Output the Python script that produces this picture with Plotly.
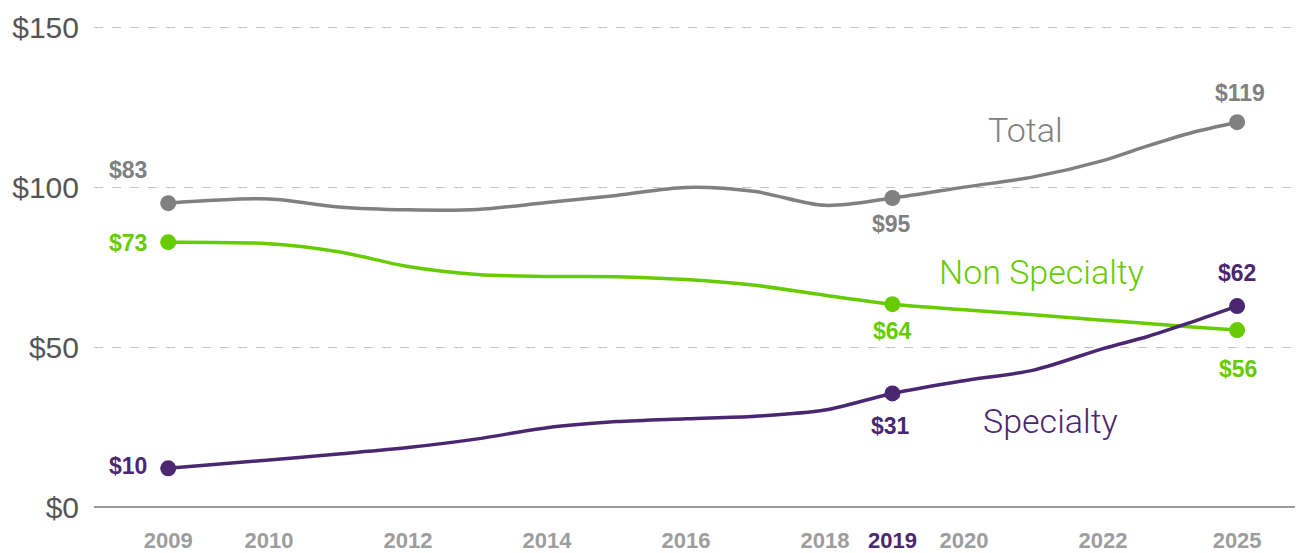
import numpy as np
import plotly.graph_objects as go

# ---- data ----
years = [2009, 2010, 2011, 2012, 2013, 2014, 2015, 2016, 2017,
         2018, 2019, 2020, 2021, 2022, 2023, 2024, 2025]
total = [95.0, 96.3, 93.8, 92.9, 93.0, 95.2, 97.4, 99.9, 98.6,
         94.3, 96.6, 100.0, 103.2, 108.3, 112.9, 117.1, 120.3]
non_specialty = [82.8, 82.3, 79.8, 75.2, 72.7, 72.1, 72.0, 71.1, 69.3,
                 66.2, 63.4, 61.7, 60.1, 58.4, 57.4, 56.3, 55.3]
specialty = [12.1, 14.7, 16.6, 18.6, 21.3, 24.8, 26.7, 27.6, 28.4,
             30.3, 35.5, 39.5, 42.8, 49.5, 53.3, 57.9, 62.8]

marker_years = [2009, 2019, 2025]
total_labels = ["$83", "$95", "$119"]
non_specialty_labels = ["$73", "$64", "$56"]
specialty_labels = ["$10", "$31", "$62"]

tick_years = [2009, 2010, 2012, 2014, 2016, 2018, 2019, 2020, 2022, 2025]
tick_text = ["2009", "2010", "2012", "2014", "2016", "2018",
             '<span style="color:#4b2771">2019</span>', "2020", "2022", "2025"]
y_ticks = [0, 50, 100, 150]
y_tick_text = ["$0", "$50", "$100", "$150"]

# ---- styles ----
GRAY = "#808080"
GREEN = "#66cc00"
PURPLE = "#4b2771"
FONT = "Liberation Sans"
LIGHT_FONT = "Roboto"

# the designed (non-uniform) horizontal scale of the original graphic
_anchor_years = [2009, 2010, 2018, 2019, 2020, 2022, 2025]
_anchor_pos = [2008.55, 2010, 2018, 2018.97, 2020, 2022, 2023.93]


def xpos(y):
    return np.interp(np.asarray(y, dtype=float), _anchor_years, _anchor_pos)


fig = go.Figure()

series = [
    ("Total", total, GRAY, total_labels),
    ("Non Specialty", non_specialty, GREEN, non_specialty_labels),
    ("Specialty", specialty, PURPLE, specialty_labels),
]

for name, vals, col, _ in series:
    fig.add_trace(go.Scatter(
        x=xpos(years), y=vals, mode="lines", name=name,
        line=dict(color=col, width=3.5, shape="spline", smoothing=0.9),
        hoverinfo="skip", showlegend=False))

for name, vals, col, _ in series:
    mv = [vals[years.index(y)] for y in marker_years]
    fig.add_trace(go.Scatter(
        x=xpos(marker_years), y=mv, mode="markers", name=name,
        marker=dict(color=col, size=16), showlegend=False))

# value-label offsets (pixels) per series, per marker year
offsets = {
    "Total": [(-40, 33), (-1, -26), (3, 29)],
    "Non Specialty": [(-40, -1), (0, -27), (1, -39)],
    "Specialty": [(-40, 2), (-2, -33), (0, 33)],
}
annotations = []
for name, vals, col, labels in series:
    for i, yr in enumerate(marker_years):
        v = vals[years.index(yr)]
        dx, dy = offsets[name][i]
        annotations.append(dict(
            x=float(xpos(yr)), y=v, text=labels[i], showarrow=False,
            xshift=dx, yshift=dy,
            font=dict(family=FONT, size=23, color=col, weight="bold"),
            xanchor="center", yanchor="middle"))

# series name labels
name_pos = {"Total": (2020.89, 118.0), "Non Specialty": (2021.11, 73.5),
            "Specialty": (2021.24, 27.0)}
for name, vals, col, _ in series:
    nx, ny = name_pos[name]
    annotations.append(dict(
        x=nx, y=ny, text=name, showarrow=False,
        font=dict(family=LIGHT_FONT, size=34, color=col, weight=300),
        xanchor="center", yanchor="middle"))

fig.update_layout(
    width=1299, height=553,
    margin=dict(l=94, r=4, t=24, b=46, autoexpand=False),
    paper_bgcolor="white", plot_bgcolor="white",
    annotations=annotations,
    xaxis=dict(
        range=[2007.482, 2024.763],
        tickvals=xpos(tick_years), ticktext=tick_text,
        tickfont=dict(family=FONT, size=22, color="#9d9d9d", weight="bold"),
        showgrid=False, zeroline=False, showline=False, automargin=False,
        ticks="", ticklabelstandoff=18),
    yaxis=dict(
        range=[0, 151], tickvals=y_ticks, ticktext=y_tick_text,
        tickfont=dict(family=FONT, size=30, color="#555555"),
        showgrid=True, gridcolor="#c4c4c4", griddash="dash", gridwidth=1,
        zeroline=True, zerolinecolor="#9a9a9a", zerolinewidth=2,
        showline=False, automargin=False, ticks="", ticklabelstandoff=14),
)

fig.write_html("out.html", config={"displayModeBar": False},
               post_script="document.body.style.margin='0';")
